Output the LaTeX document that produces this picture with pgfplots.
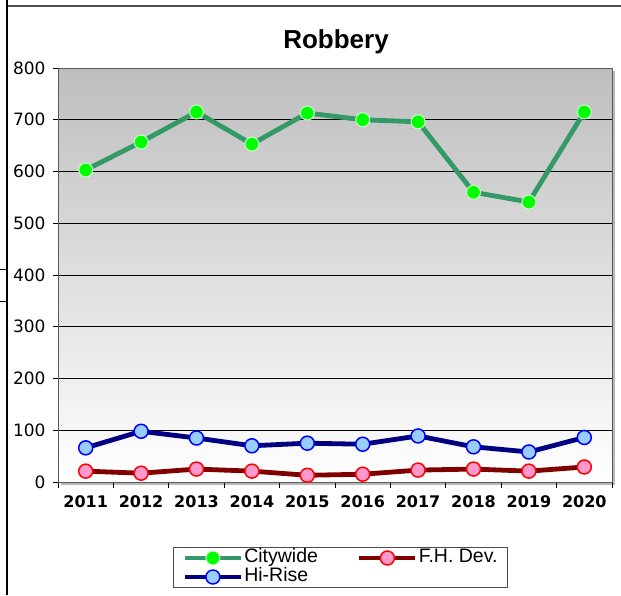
\documentclass[border=0pt]{standalone}
\usepackage{fontspec}
\usepackage{pgfplots}
\pgfplotsset{compat=1.18}
\setmainfont{Liberation Sans}
\newfontfamily\dejavu{DejaVu Sans}
\definecolor{cityline}{RGB}{51,153,102}
\definecolor{cityfill}{RGB}{0,255,0}
\definecolor{cityedge}{RGB}{204,255,204}
\definecolor{fhline}{RGB}{128,0,0}
\definecolor{fhfill}{RGB}{255,153,204}
\definecolor{fhedge}{RGB}{255,0,0}
\definecolor{hrline}{RGB}{0,0,128}
\definecolor{hrfill}{RGB}{153,204,255}
\definecolor{hredge}{RGB}{0,0,255}
\definecolor{bgtop}{RGB}{190,190,190}
\begin{document}
\begin{tikzpicture}
\useasboundingbox (0pt,0pt) rectangle (621pt,595pt);
\draw[line width=1.5pt, black!70] (7pt,589pt) -- (621pt,589pt);
\draw[line width=2pt, black] (7pt,0pt) -- (7pt,595pt);
\draw[line width=1pt, black] (0pt,325pt) -- (7pt,325pt);
\draw[line width=1pt, black] (0pt,293pt) -- (7pt,293pt);
\fill[gray!55] (61pt,110pt) rectangle (615pt,524pt);
\node[anchor=base, font=\bfseries\fontsize{26}{30}\selectfont] at (336pt,546pt) {Robbery};
\begin{axis}[
  at={(58pt,113pt)}, anchor=south west,
  scale only axis, width=554pt, height=414pt,
  xmin=-0.5, xmax=9.5, ymin=0, ymax=800,
  xtick={0,...,9},
  xticklabels={2011,2012,2013,2014,2015,2016,2017,2018,2019,2020},
  minor xtick={-0.5,0.5,...,9.5},
  ytick={0,100,...,800},
  xtick pos=bottom, ytick pos=left,
  major x tick style={draw=none},
  tick align=outside,
  major tick length=5pt, minor tick length=6pt,
  tick style={black, line width=0.8pt},
  ymajorgrids, grid style={black, line width=0.8pt},
  axis line style={draw=black!65, line width=1pt},
  axis background/.style={top color=bgtop, bottom color=white},
  /pgf/number format/assume math mode=true,
  yticklabel style={font=\dejavu\fontsize{17}{20}\selectfont, xshift=-4pt},
  xticklabel style={font=\dejavu\bfseries\fontsize{16}{19}\selectfont, yshift=-5pt},
  legend image code/.code={
    \draw[mark repeat=2, mark phase=2, #1] plot coordinates {(0pt,0pt) (28pt,0pt) (56pt,0pt)};
  },
  legend columns=2,
  legend cell align=left,
  legend style={at={(0.2076,-0.157)}, anchor=north west, draw=black!70, line width=1pt,
    font=\fontsize{19.5}{21}\selectfont, inner xsep=9pt, inner ysep=1pt,
    nodes={inner sep=1pt, text height=13.5pt, text depth=3.5pt},
    /tikz/every even column/.append style={column sep=38pt}},
]
\addplot[cityline, line width=4.8pt, mark=*, mark size=7pt,
  mark options={fill=cityfill, draw=cityedge, line width=1pt}] coordinates {
  (0,603) (1,657) (2,715) (3,653) (4,713) (5,700) (6,696) (7,560) (8,541) (9,715)};
\addlegendentry{Citywide}
\addplot[fhline, line width=4.8pt, mark=*, mark size=7pt,
  mark options={fill=fhfill, draw=fhedge, line width=1.5pt}] coordinates {
  (0,21) (1,17) (2,25) (3,21) (4,13) (5,15) (6,23) (7,25) (8,21) (9,29)};
\addlegendentry{F.H. Dev.}
\addplot[hrline, line width=4.8pt, mark=*, mark size=7pt,
  mark options={fill=hrfill, draw=hredge, line width=1.5pt}] coordinates {
  (0,66) (1,98) (2,85) (3,70) (4,75) (5,73) (6,89) (7,68) (8,58) (9,86)};
\addlegendentry{Hi-Rise}
\end{axis}
\end{tikzpicture}
\end{document}
